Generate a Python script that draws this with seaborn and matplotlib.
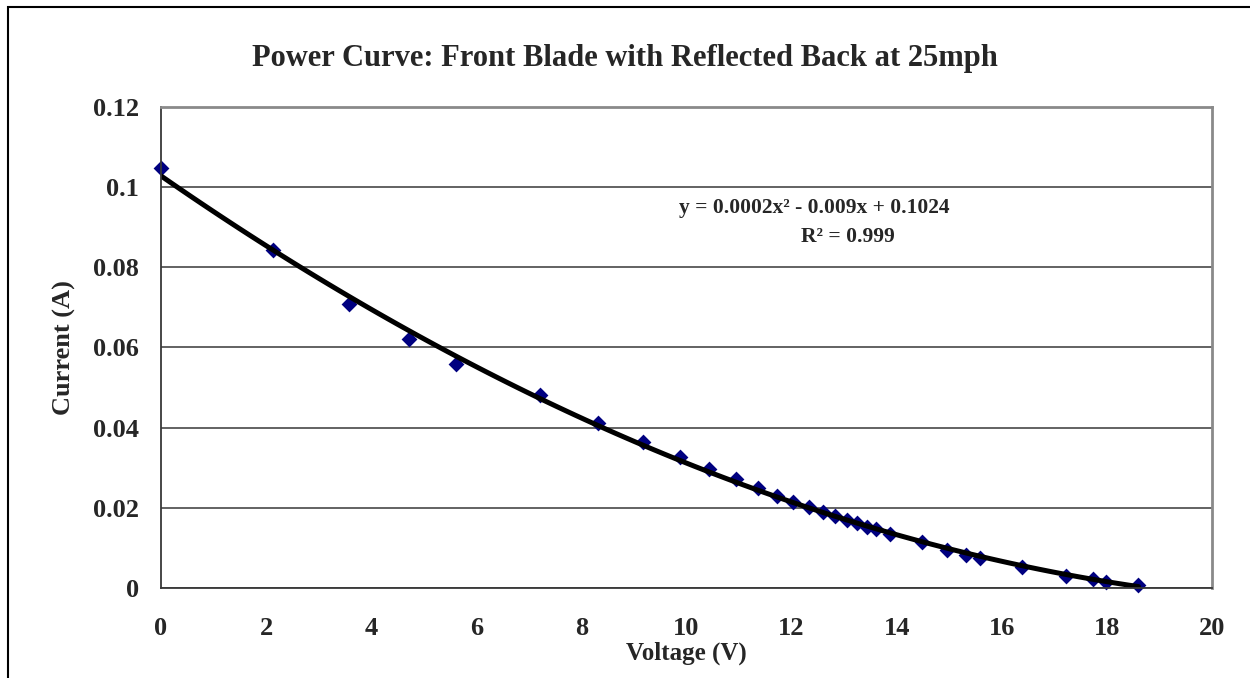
import numpy as np
import pandas as pd
import seaborn as sns
import matplotlib.pyplot as plt
from matplotlib.patches import Rectangle
from matplotlib.ticker import FuncFormatter, MultipleLocator

voltage = [0.0, 2.14, 3.58, 4.71, 5.61, 7.21, 8.32, 9.18, 9.88, 10.43,
           10.94, 11.37, 11.72, 12.03, 12.34, 12.59, 12.83, 13.05, 13.25,
           13.43, 13.60, 13.88, 14.48, 14.95, 15.31, 15.58, 16.38, 17.23,
           17.73, 17.98, 18.60]
current = [0.1047, 0.0843, 0.0708, 0.0621, 0.0558, 0.0481, 0.0411, 0.0363,
           0.0327, 0.0296, 0.0271, 0.0249, 0.0230, 0.0215, 0.0201, 0.0190,
           0.0180, 0.0170, 0.0162, 0.0153, 0.0146, 0.0135, 0.0114, 0.0096,
           0.0082, 0.0076, 0.0052, 0.0031, 0.0022, 0.0016, 0.0007]

title = "Power Curve: Front Blade with Reflected Back at 25mph"
equation = "y = 0.0002x\u00b2 - 0.009x + 0.1024"
r_squared = "R\u00b2 = 0.999"

df = pd.DataFrame({"Voltage": voltage, "Current": current})

sns.set_style("white")
plt.rcParams["font.family"] = ["Liberation Serif", "DejaVu Serif"]
plt.rcParams["font.weight"] = "bold"

fig = plt.figure(figsize=(12.5, 6.78), dpi=100)
ax = fig.add_axes([0.1288, 0.1327, 0.8408, 0.7102])

# scatter + 2nd order trendline
sns.regplot(data=df, x="Voltage", y="Current", order=2, ci=None, ax=ax,
            marker="D",
            scatter_kws=dict(color="#000080", s=65, alpha=1, linewidths=0,
                             clip_on=False),
            line_kws=dict(color="black", lw=3.6))

ax.set_xlim(0, 20)
ax.set_ylim(0, 0.12)
ax.xaxis.set_major_locator(MultipleLocator(2))
ax.yaxis.set_major_locator(MultipleLocator(0.02))
ax.yaxis.set_major_formatter(FuncFormatter(lambda v, p: f"{v:g}"))

ax.yaxis.grid(True, color="#383838", lw=1.1)
ax.set_axisbelow(True)
for side in ["left", "bottom"]:
    ax.spines[side].set_color("#383838")
    ax.spines[side].set_linewidth(1.3)
for side in ["top", "right"]:
    ax.spines[side].set_color("#8a8a8a")
    ax.spines[side].set_linewidth(2)

ax.tick_params(axis="both", direction="out", length=5, width=1.1,
               color="#383838", labelsize=19)
ax.tick_params(axis="y", pad=11)
ax.tick_params(axis="x", pad=16)
for lbl in ax.get_xticklabels() + ax.get_yticklabels():
    lbl.set_fontweight("bold")

ax.set_xlabel("Voltage (V)", fontsize=18, fontweight="bold", labelpad=1)
ax.set_ylabel("Current (A)", fontsize=19, fontweight="bold", labelpad=12)

fig.text(0.5, 0.914, title, ha="center", va="center", fontsize=22,
         fontweight="bold")

ax.text(0.622, 0.79, equation, transform=ax.transAxes, ha="center",
        va="center", fontsize=15.5, fontweight="bold")
ax.text(0.654, 0.729, r_squared, transform=ax.transAxes, ha="center",
        va="center", fontsize=15.5, fontweight="bold")

# outer frame of the chart
fig.patches.append(Rectangle((8 / 1250, -0.1), 1.2, 1 - 7 / 678 + 0.1,
                             transform=fig.transFigure, fill=False,
                             edgecolor="black", lw=1.5))

fig.savefig("out.png", dpi=100)
